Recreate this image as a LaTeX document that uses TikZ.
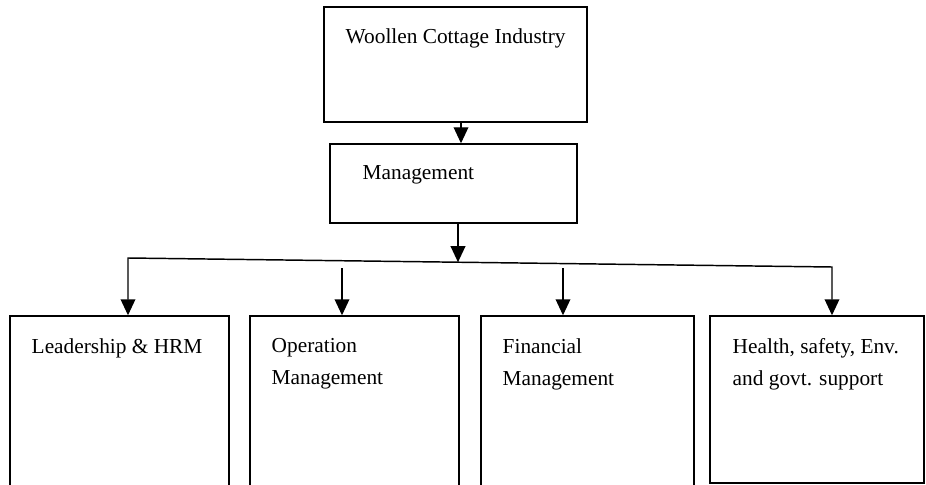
\documentclass[tikz,border=0pt]{standalone}
\usepackage{fontspec}
\setmainfont{Liberation Serif}
\usetikzlibrary{arrows.meta}
\begin{document}
\begin{tikzpicture}[x=0.75pt,y=-0.75pt,line width=1.1pt,>={Triangle[width=11pt,length=12pt]}]
    \tikzstyle{block}=[draw,rectangle,inner sep=0pt]
    \tikzstyle{box text}=[anchor=north west,inner sep=0pt,align=left,font=\fontsize{16}{24}\selectfont]
    \tikzstyle{link}=[->]

    \clip (0,0) rectangle (926,485);

    % Top of the chart
    \node[block,minimum width=197.25pt,minimum height=86.25pt] (WCI) at (455.5,64.5) {};
    \node[box text] (WCI-t) at (345,28) {Woollen Cottage Industry};

    \node[block,minimum width=185.25pt,minimum height=59.25pt] (Mgmt) at (453.5,183.5) {};
    \node[box text] (Mgmt-t) at (362,165) {Management};

    % The four functional areas
    \node[block,minimum width=164.25pt,minimum height=138pt] (B-1) at (119.5,408) {};
    \node[block,minimum width=156.75pt,minimum height=138pt] (B-2) at (354.5,408) {};
    \node[block,minimum width=159.75pt,minimum height=138pt] (B-3) at (587.5,408) {};
    \node[block,minimum width=160.5pt,minimum height=125.25pt] (B-4) at (817,399.5) {};

    \node[box text] (B-1-t) at (31,338) {Leadership \& HRM};
    \node[box text] (B-2-t) at (271,338) {Operation\\Management};
    \node[box text] (B-3-t) at (502,338) {Financial\\Management};
    \node[box text] (B-4-t) at (732,338) {Health, safety, Env.\\and govt. support};

    % Connectors
    \coordinate (top-drop) at (461,0);
    \draw[link] (WCI.south -| top-drop) -- (Mgmt.north -| top-drop);

    \coordinate (fork-L) at (128,258);
    \coordinate (fork-R) at (832,267);
    \coordinate (fork-M) at (458,262.2);
    \draw[<->] (fork-L |- B-1.north) -- (fork-L) -- (fork-R) -- (fork-R |- B-4.north);
    \draw[link] (Mgmt.south -| fork-M) -- (fork-M);

    \coordinate (drop-2) at (342,268);
    \coordinate (drop-3) at (563,268);
    \draw[link] (drop-2) -- (drop-2 |- B-2.north);
    \draw[link] (drop-3) -- (drop-3 |- B-3.north);
\end{tikzpicture}
\end{document}
